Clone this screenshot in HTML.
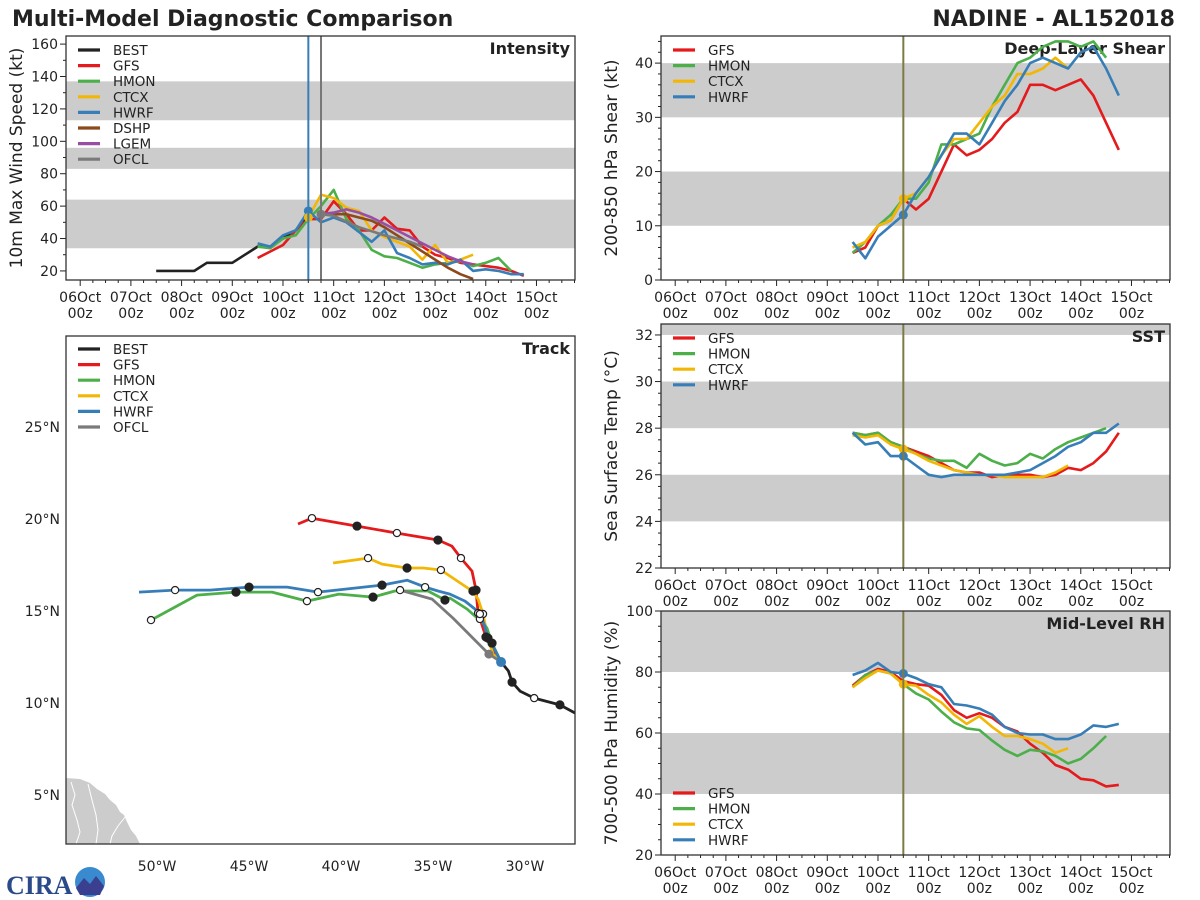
<!DOCTYPE html>
<html><head><meta charset="utf-8"><title>Multi-Model Diagnostic Comparison</title>
<style>
html,body{margin:0;padding:0;background:#fff;}
svg{display:block;font-family:"DejaVu Sans","Liberation Sans",sans-serif;}
</style></head>
<body>
<svg id="fig" width="1200" height="900" viewBox="0 0 1200 900">
<text x="12" y="26" font-size="22" font-weight="bold" fill="#222">Multi-Model Diagnostic Comparison</text>
<text x="1175" y="26" font-size="22" font-weight="bold" fill="#222" text-anchor="end">NADINE - AL152018</text>
<g>
<text x="6" y="894" font-size="26" font-weight="bold" fill="#2a4a8a" font-family="Liberation Serif, serif">CIRA</text>
<circle cx="90" cy="882" r="15" fill="#3a8ad0"/>
<path d="M76 888 L84 878 L90 884 L96 876 L104 886 L100 895 L80 895 Z" fill="#3b3f8f"/>
</g>
</svg>
<script>
// ---------- common ----------
const dayLabels = ["06Oct","07Oct","08Oct","09Oct","10Oct","11Oct","12Oct","13Oct","14Oct","15Oct"];
const hourLabel = "00z";
const stepDays = 0.25;
const currentTime = 4.5;
const ofclTime = 4.75;

// ---------- intensity data (kt) ----------
const intStart = {BEST:1.5, GFS:3.5, HMON:3.5, CTCX:4.5, HWRF:3.5, DSHP:4.75, LGEM:4.75};
const bestInt = [20,20,20,20,25,25,25,30,35,35,40,45,55];
const gfsInt  = [28,32,36,45,52,52,63,55,45,45,53,46,45,35,30,28,25,24,23,22,20,17];
const hmonInt = [35,34,40,42,52,60,70,52,45,33,29,28,25,22,24,25,26,23,25,28,20];
const ctcxInt = [53,67,65,59,57,45,41,38,35,27,36,25,27,30];
const hwrfInt = [37,35,42,45,57,50,53,50,44,38,45,31,28,24,25,24,27,20,21,20,18,18];
const dshpInt = [55,55,55,53,51,47,42,37,32,27,22,18,15];
const lgemInt = [55,56,58,56,53,49,45,41,37,33,29,26,24];
const ofclIntT = [4.75,5.0,5.5,6.0,6.5,6.75];
const ofclInt  = [55,54,47,42,38,35];
const intTicks = [20,40,60,80,100,120,140,160];
const intBands = [[34,64],[83,96],[113,137]];

// ---------- shear data (kt) ----------
const shearStart = 3.5;
const gfsShear  = [5,6,10,11,15,13,15,20,25,23,24,26,29,31,36,36,35,36,37,34,29,24];
const hmonShear = [5,7,10,12,15,15,18,25,25,26,27,32,36,40,41,43,44,44,43,44,41];
const ctcxShear = [6,7,10,11,15,16,19,23,26,26,29,32,34,38,38,39,41,39];
const hwrfShear = [7,4,8,10,12,16,19,23,27,27,25,29,33,36,40,41,40,39,42,43,39,34];
const shearTicks = [0,10,20,30,40];
const shearBands = [[10,20],[30,40]];

// ---------- SST data (C) ----------
const sstStart = 3.5;
const gfsSst  = [27.8,27.7,27.8,27.4,27.2,27.0,26.8,26.5,26.2,26.1,26.1,25.9,26.0,26.0,26.0,25.9,26.0,26.3,26.2,26.5,27.0,27.8];
const hmonSst = [27.8,27.7,27.8,27.4,27.2,26.9,26.7,26.6,26.6,26.3,26.9,26.6,26.4,26.5,26.9,26.7,27.1,27.4,27.6,27.8,28.0];
const ctcxSst = [27.7,27.6,27.7,27.3,27.1,26.9,26.6,26.4,26.2,26.1,26.0,26.0,25.9,25.9,25.9,25.9,26.1,26.4];
const hwrfSst = [27.8,27.3,27.4,26.8,26.8,26.4,26.0,25.9,26.0,26.0,26.0,26.0,26.0,26.1,26.2,26.5,26.8,27.2,27.4,27.8,27.8,28.2];
const sstTicks = [22,24,26,28,30,32];
const sstBands = [[24,26],[28,30],[32,40]];

// ---------- RH data (%) ----------
const rhStart = 3.5;
const gfsRh  = [75.5,79,81,80,77,76,75.5,72.5,67.5,65,66.5,65,62,60.5,56.5,53.5,49.5,48,45,44.5,42.5,43];
const hmonRh = [75,79,80.5,79.5,76,73,71,67,63.5,61.5,61,57.5,54.5,52.5,54.5,54,52.5,50,51.5,55,59];
const ctcxRh = [75,78,80.5,79.5,76,75.5,72.5,70,66,63,65.5,62,59,59,58,56.5,53.5,55];
const hwrfRh = [79,80.5,83,80,79.5,78,76,75,69.5,69,68,66,62,60,59.5,59.5,58,58,59.5,62.5,62,63];
const rhTicks = [20,40,60,80,100];
const rhBands = [[40,60],[80,100]];

// ---------- track data (lon, lat) ----------
const bestLon = [-27.28,-28.1,-29.5,-30.27,-30.7,-30.9,-31.3];
const bestLat = [9.46,9.9,10.27,10.65,11.14,11.74,12.23];
const bestMk  = ["","f","o","","f","",""];
const gfsLon = [-31.3,-31.79,-32.12,-32.55,-32.66,-32.88,-33.48,-33.97,-34.73,-36.96,-39.13,-41.58,-42.34];
const gfsLat = [12.23,12.93,13.59,14.89,16.14,17.17,17.88,18.53,18.86,19.24,19.62,20.05,19.73];
const gfsMk  = ["","","f","o","f","","o","","f","o","f","o",""];
const hmonLon = [-31.3,-31.79,-32.07,-32.45,-32.72,-33.15,-34.08,-34.35,-35.27,-37.07,-38.26,-40.11,-41.85,-43.75,-45.71,-47.83,-50.33];
const hmonLat = [12.23,13.26,14.08,14.57,14.73,15.11,15.71,15.6,16.09,16.09,15.76,15.92,15.54,16.03,16.03,15.87,14.51];
const hmonMk  = ["","f","","o","","","","f","","","f","","o","","f","","o"];
const ctcxLon = [-31.3,-31.74,-32.01,-32.28,-32.55,-32.83,-33.1,-33.91,-34.57,-35.54,-36.41,-37.77,-38.53,-40.43];
const ctcxLat = [12.23,12.66,13.53,14.84,15.65,16.09,16.25,16.79,17.23,17.34,17.34,17.55,17.88,17.61];
const ctcxMk  = ["","","f","o","","f","","","o","","f","","o",""];
const hwrfLon = [-31.3,-32.07,-32.28,-32.45,-32.72,-33.26,-34.08,-34.73,-35.43,-36.41,-37.77,-41.25,-42.93,-45.0,-47.12,-49.02,-50.98];
const hwrfLat = [12.23,13.75,14.46,14.84,15.11,15.54,15.92,16.09,16.3,16.68,16.41,16.03,16.3,16.3,16.14,16.14,16.03];
const hwrfMk  = ["","","","o","","","","","o","","f","o","","f","","o",""];
const ofclLon = [-31.3,-31.96,-32.83,-33.91,-35.05,-36.79];
const ofclLat = [12.23,12.66,13.53,14.62,15.65,16.14];
const ofclMk  = ["","","","","","o"];
const lonTicks = [-50,-45,-40,-35,-30];
const latTicks = [5,10,15,20,25];

const COL = {BEST:"#222222",GFS:"#e41a1c",HMON:"#4daf4a",CTCX:"#f2b705",HWRF:"#377eb8",DSHP:"#8c4a1c",LGEM:"#984ea3",OFCL:"#7a7a7a"};
const NS = "http://www.w3.org/2000/svg";
const fig = document.getElementById("fig");

function mk(tag, attrs, parent){
  const e = document.createElementNS(NS, tag);
  for (const k in attrs) e.setAttribute(k, attrs[k]);
  (parent||fig).appendChild(e);
  return e;
}

function timePanel(name, L, T, W, H, y0, y1, ticks, minorStep, bands, title, ylabel){
  const t0 = -0.28, t1 = 9.76;
  const sx = t => L + (t - t0) / (t1 - t0) * W;
  const sy = v => T + H - (v - y0) / (y1 - y0) * H;
  const g = mk("g", {});
  
  
  const clipId = name + "-clip";
  const cp = mk("clipPath", {id: clipId}, g);
  mk("rect", {x:L, y:T, width:W, height:H}, cp);
  bands.forEach((b, i) => {
    const r = mk("rect", {x:L, y:sy(Math.min(b[1], y1)), width:W, height:sy(b[0]) - sy(Math.min(b[1], y1)), fill:"#cccccc"}, g);
    
    
  });
  for (let v = Math.ceil(y0 / minorStep) * minorStep; v <= y1 + 1e-9; v += minorStep) {
    const isMajor = ticks.some(t => Math.abs(t - v) < 1e-6);
    mk("line", {x1:L - (isMajor ? 6 : 3), x2:L, y1:sy(v), y2:sy(v), stroke:"#222", "stroke-width":1}, g);
  }
  ticks.forEach(v => {
    const t = mk("text", {x:L - 8, y:sy(v) + 5, "font-size":14, fill:"#222", "text-anchor":"end"}, g);
    t.textContent = v;
    
    
  });
  for (let d = 0; d <= 9.75; d += 0.25) {
    const major = Math.abs(d - Math.round(d)) < 1e-6;
    mk("line", {x1:sx(d), x2:sx(d), y1:T + H, y2:T + H + (major ? 6 : 3), stroke:"#222", "stroke-width":1}, g);
  }
  dayLabels.forEach((lab, i) => {
    const t = mk("text", {x:sx(i), y:T + H + 22, "font-size":14, fill:"#222", "text-anchor":"middle"}, g);
    t.textContent = lab;
    
    
    const h = mk("text", {x:sx(i), y:T + H + 38, "font-size":14, fill:"#222", "text-anchor":"middle"}, g);
    h.textContent = hourLabel;
    
    
  });
  const yl = mk("text", {transform:`translate(${L - 44},${T + H / 2}) rotate(-90)`, "font-size":17, fill:"#222", "text-anchor":"middle"}, g);
  yl.textContent = ylabel;
  
  
  const pt = mk("text", {x:L + W - 5, y:T + 18, "font-size":16, "font-weight":"bold", fill:"#222", "text-anchor":"end"}, g);
  pt.textContent = title;
  
  
  const plot = mk("g", {"clip-path":`url(#${clipId})`}, g);
  return {sx, sy, g, plot, L, T, W, H};
}

function series(P, key, start, vals, name){
  const pts = vals.map((v, i) => P.sx(start + i * stepDays).toFixed(1) + "," + P.sy(v).toFixed(1)).join(" ");
  const pl = mk("polyline", {points:pts, fill:"none", stroke:COL[key], "stroke-width":2.6, "stroke-linejoin":"round"}, P.plot);
  
  
  return pl;
}
function seriesT(P, key, ts, vals, name){
  const pts = vals.map((v, i) => P.sx(ts[i]).toFixed(1) + "," + P.sy(v).toFixed(1)).join(" ");
  const pl = mk("polyline", {points:pts, fill:"none", stroke:COL[key], "stroke-width":2.6}, P.plot);
  
  
}
function dot(P, key, t, v, name){
  const c = mk("circle", {cx:P.sx(t), cy:P.sy(v), r:4.5, fill:COL[key]}, P.plot);
  
  
}
function vline(P, t, color, name){
  const l = mk("line", {x1:P.sx(t), x2:P.sx(t), y1:P.T, y2:P.T + P.H, stroke:color, "stroke-width":2}, P.g);
  
  
}
function frame(P, name){
  const r = mk("rect", {x:P.L, y:P.T, width:P.W, height:P.H, fill:"none", stroke:"#333", "stroke-width":1.3}, P.g);
  
  
}
function legend(g, x, y, keys, name){
  keys.forEach((k, i) => {
    const yy = y + i * 15.6;
    const l = mk("line", {x1:x, x2:x + 22, y1:yy, y2:yy, stroke:COL[k], "stroke-width":3.2}, g);
    
    
    const t = mk("text", {x:x + 35, y:yy + 5, "font-size":13.5, fill:"#222"}, g);
    t.textContent = k;
    
    
  });
}

// ---------- Intensity ----------
const PI = timePanel("intensity", 66, 36, 509, 244, 14.4, 165, intTicks, 10, intBands, "Intensity", "10m Max Wind Speed (kt)");
vline(PI, currentTime, "#377eb8", "intensity-current-time-line");
vline(PI, ofclTime, "#777777", "intensity-ofcl-time-line");
series(PI, "BEST", intStart.BEST, bestInt, "intensity");
series(PI, "GFS", intStart.GFS, gfsInt, "intensity");
series(PI, "HMON", intStart.HMON, hmonInt, "intensity");
series(PI, "CTCX", intStart.CTCX, ctcxInt, "intensity");
series(PI, "HWRF", intStart.HWRF, hwrfInt, "intensity");
series(PI, "DSHP", intStart.DSHP, dshpInt, "intensity");
series(PI, "LGEM", intStart.LGEM, lgemInt, "intensity");
seriesT(PI, "OFCL", ofclIntT, ofclInt, "intensity");
dot(PI, "HWRF", currentTime, hwrfInt[4], "intensity");
dot(PI, "CTCX", currentTime, ctcxInt[0], "intensity");
dot(PI, "OFCL", ofclTime, ofclInt[0], "intensity");
frame(PI, "intensity");
legend(PI.g, 78, 50, ["BEST","GFS","HMON","CTCX","HWRF","DSHP","LGEM","OFCL"], "intensity");

// ---------- Shear ----------
const PS = timePanel("shear", 661, 36, 509, 244, 0, 45, shearTicks, 2, shearBands, "Deep-Layer Shear", "200-850 hPa Shear (kt)");
vline(PS, currentTime, "#7d7a45", "shear-current-time-line");
series(PS, "GFS", shearStart, gfsShear, "shear");
series(PS, "HMON", shearStart, hmonShear, "shear");
series(PS, "CTCX", shearStart, ctcxShear, "shear");
series(PS, "HWRF", shearStart, hwrfShear, "shear");
dot(PS, "CTCX", currentTime, ctcxShear[4], "shear");
dot(PS, "HWRF", currentTime, hwrfShear[4], "shear");
frame(PS, "shear");
legend(PS.g, 673, 50, ["GFS","HMON","CTCX","HWRF"], "shear");

// ---------- SST ----------
const PT = timePanel("sst", 661, 324, 509, 244, 22, 32.47, sstTicks, 0.5, sstBands, "SST", "Sea Surface Temp (\u00B0C)");
vline(PT, currentTime, "#7d7a45", "sst-current-time-line");
series(PT, "GFS", sstStart, gfsSst, "sst");
series(PT, "HMON", sstStart, hmonSst, "sst");
series(PT, "CTCX", sstStart, ctcxSst, "sst");
series(PT, "HWRF", sstStart, hwrfSst, "sst");
dot(PT, "CTCX", currentTime, ctcxSst[4], "sst");
dot(PT, "HWRF", currentTime, hwrfSst[4], "sst");
frame(PT, "sst");
legend(PT.g, 673, 338, ["GFS","HMON","CTCX","HWRF"], "sst");

// ---------- RH ----------
const PR = timePanel("rh", 661, 611, 509, 244, 20, 100, rhTicks, 5, rhBands, "Mid-Level RH", "700-500 hPa Humidity (%)");
vline(PR, currentTime, "#7d7a45", "rh-current-time-line");
series(PR, "GFS", rhStart, gfsRh, "rh");
series(PR, "HMON", rhStart, hmonRh, "rh");
series(PR, "CTCX", rhStart, ctcxRh, "rh");
series(PR, "HWRF", rhStart, hwrfRh, "rh");
dot(PR, "HWRF", currentTime, hwrfRh[4], "rh");
dot(PR, "CTCX", currentTime, ctcxRh[4], "rh");
frame(PR, "rh");
legend(PR.g, 673, 793, ["GFS","HMON","CTCX","HWRF"], "rh");

// ---------- Track ----------
(function(){
  const L = 66, T = 336, W = 509, H = 508;
  const lon0 = -54.95, lon1 = -27.28, lat0 = 2.34, lat1 = 29.95;
  const sx = lo => L + (lo - lon0) / (lon1 - lon0) * W;
  const sy = la => T + H - (la - lat0) / (lat1 - lat0) * H;
  const g = mk("g", {});
  
  
  const cp = mk("clipPath", {id:"track-clip"}, g);
  mk("rect", {x:L, y:T, width:W, height:H}, cp);
  const plot = mk("g", {"clip-path":"url(#track-clip)"}, g);
  const land = mk("path", {d:"M66 778 L80 779 L90 783 L97 789 L105 794 L110 800 L116 805 L120 812 L124 815 L127 822 L131 830 L136 836 L140 844 L66 844 Z", fill:"#cccccc"}, plot);
  
  
  ["M71 782 L75 795 L72 805 L77 820 L80 832 L76 844","M88 784 L92 800 L96 815 L98 830 L96 844","M126 816 L118 826 L112 836 L110 844"].forEach(d => {
    const r = mk("path", {d:d, fill:"none", stroke:"#fff", "stroke-width":1}, plot);
    
    
  });
  lonTicks.forEach(lo => {
    const t = mk("text", {x:sx(lo), y:T + H + 27, "font-size":14, fill:"#222", "text-anchor":"middle"}, g);
    t.textContent = (-lo) + "\u00B0W";
    
    
  });
  latTicks.forEach(la => {
    const t = mk("text", {x:L - 6, y:sy(la) + 5, "font-size":14, fill:"#222", "text-anchor":"end"}, g);
    t.textContent = la + "\u00B0N";
    
    
  });
  function trk(key, lons, lats, mks){
    const pts = lons.map((lo, i) => sx(lo).toFixed(1) + "," + sy(lats[i]).toFixed(1)).join(" ");
    const pl = mk("polyline", {points:pts, fill:"none", stroke:COL[key], "stroke-width":2.8, "stroke-linejoin":"round"}, plot);
    
    
    return () => mks.forEach((m, i) => {
      if (!m) return;
      const c = mk("circle", {cx:sx(lons[i]), cy:sy(lats[i]), r:m === "f" ? 4 : 3.6, fill:m === "f" ? "#222" : "#fff", stroke:"#222", "stroke-width":1.2}, plot);
      
      
    });
  }
  const ms = [];
  ms.push(trk("GFS", gfsLon, gfsLat, gfsMk));
  ms.push(trk("CTCX", ctcxLon, ctcxLat, ctcxMk));
  ms.push(trk("HMON", hmonLon, hmonLat, hmonMk));
  ms.push(trk("HWRF", hwrfLon, hwrfLat, hwrfMk));
  ms.push(trk("OFCL", ofclLon, ofclLat, ofclMk));
  ms.push(trk("BEST", bestLon, bestLat, bestMk));
  ms.forEach(f => f());
  const od = mk("circle", {cx:sx(ofclLon[1]), cy:sy(ofclLat[1]), r:4.5, fill:COL.OFCL}, plot);
  
  
  const cd = mk("circle", {cx:sx(bestLon[bestLon.length - 1]), cy:sy(bestLat[bestLat.length - 1]), r:5, fill:COL.HWRF}, plot);
  
  
  const fr = mk("rect", {x:L, y:T, width:W, height:H, fill:"none", stroke:"#333", "stroke-width":1.3}, g);
  
  
  const pt = mk("text", {x:L + W - 5, y:T + 18, "font-size":16, "font-weight":"bold", fill:"#222", "text-anchor":"end"}, g);
  pt.textContent = "Track";
  
  
  legend(g, 78, 349, ["BEST","GFS","HMON","CTCX","HWRF","OFCL"], "track");
})();
</script>
</body></html>
